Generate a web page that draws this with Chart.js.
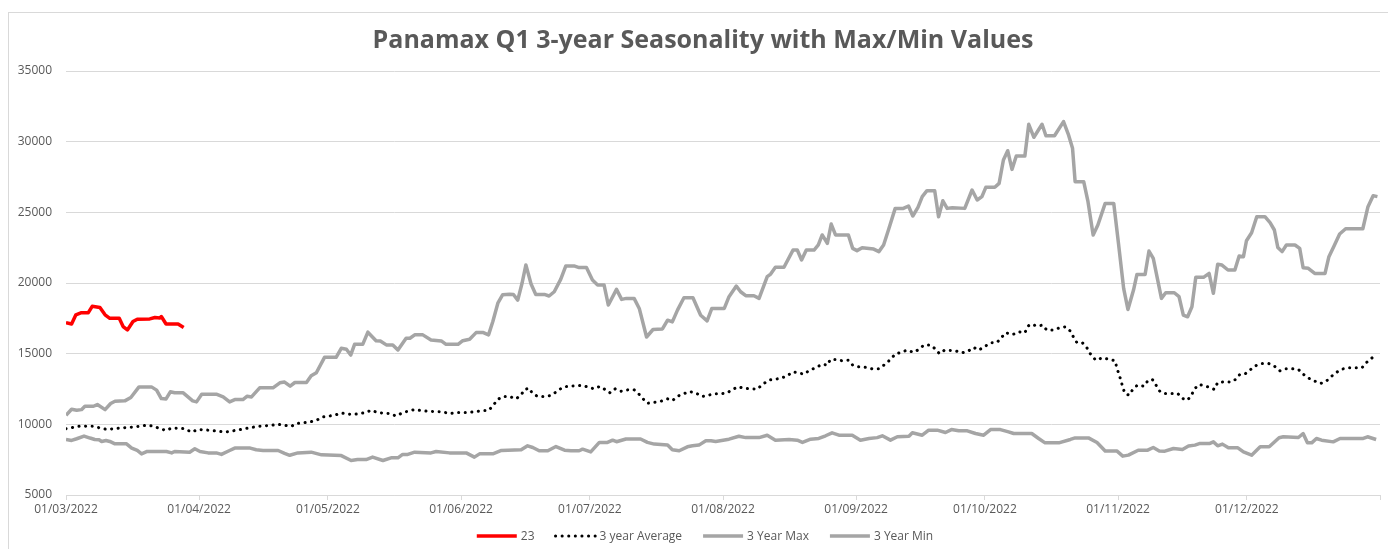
<!DOCTYPE html>
<html lang="en">
<head>
    <meta charset="UTF-8">
    <title>Panamax Q1 3-year Seasonality</title>
    <script src="https://cdn.jsdelivr.net/npm/chart.js"></script>
    <style>
        body { margin: 0; background: #fff; }
        #wrap { position: relative; width: 1388px; height: 549px; }
    </style>
</head>
<body>
<div id="wrap"><canvas id="seasonChart"></canvas></div>
<script>
    const chartTitle = 'Panamax Q1 3-year Seasonality with Max/Min Values';

    // x = days counted from 01/03/2022
    const monthTicks = [0, 31, 61, 92, 122, 153, 184, 214, 245, 275, 306];
    const monthLabels = ['01/03/2022', '01/04/2022', '01/05/2022', '01/06/2022', '01/07/2022',
        '01/08/2022', '01/09/2022', '01/10/2022', '01/11/2022', '01/12/2022', ''];
    const yTicks = [5000, 10000, 15000, 20000, 25000, 30000, 35000];

    const seriesNames = ['23', '3 year Average', '3 Year Max', '3 Year Min'];

    // [day, value]
    const series23 = [[0,17200],[1.3,17100],[2.3,17750],[3.6,17900],[5.2,17900],[6.1,18350],[7.9,18270],
        [9.1,17750],[10.2,17500],[12.4,17500],[13.3,16920],[14.3,16680],[15.6,17270],[16.6,17440],
        [19.5,17460],[20.7,17560],[21.9,17530],[22.2,17630],[23.3,17100],[26.1,17100],[27.4,16850]];

    const avg3y = [[0,9690],[3.3,9880],[6.4,9860],[7.9,9740],[9.5,9640],[12.6,9740],[15.6,9810],[18.8,9930],
        [20.3,9880],[21.9,9690],[23.3,9570],[24.6,9740],[27.7,9690],[29.2,9450],[30.8,9640],[33.9,9570],
        [37,9450],[38.5,9520],[41.6,9690],[44.7,9860],[47.8,9930],[49.4,10000],[50.5,9950],[52.5,9860],
        [53.6,10050],[56.7,10160],[58.3,10280],[59.7,10520],[62.5,10640],[64.1,10800],[66.8,10690],
        [69.8,10830],[71.1,11000],[72.6,10830],[75.3,10760],[76.9,10590],[78.4,10830],[81.1,11040],
        [84.3,10920],[87.7,10880],[89.3,10760],[90.8,10830],[93.6,10830],[97,10970],[98.4,10970],
        [99.5,11350],[100.5,11750],[101.7,11970],[103.3,11970],[104.8,11800],[106,12080],[106.7,12440],
        [107.8,12560],[108.7,12160],[109.9,11970],[111.4,11970],[112.9,12040],[114.3,12320],[115.7,12630],
        [117.2,12700],[120.2,12750],[121.7,12630],[123,12510],[124.3,12680],[125.7,12440],[126.7,12230],
        [127.9,12510],[129.2,12340],[130.8,12440],[132.3,12440],[133.5,12110],[134.4,11800],[135.4,11490],
        [137,11560],[138.5,11630],[140.1,11800],[141.2,11680],[142.8,12040],[145.2,12320],[146.6,12230],
        [148.1,11970],[149.4,12040],[150.9,12160],[152.5,12160],[154,12230],[155.2,12470],[156.6,12660],
        [157.9,12540],[161,12490],[162.2,12820],[163.7,13130],[166.4,13250],[168,13440],[169.3,13720],
        [171.9,13550],[173.2,13840],[174.6,14000],[176.1,14260],[177.3,14190],[178,14590],[179.2,14590],
        [180.7,14500],[182.2,14540],[183.2,14190],[184.6,14070],[186.2,14030],[187.7,13930],[189.3,13930],
        [190.8,14260],[192,14590],[193.1,14970],[194.6,15110],[195.9,15250],[197.4,15090],[198.6,15300],
        [199.8,15610],[201.3,15610],[202.5,15320],[203.4,15000],[204.6,15250],[207.1,15200],[208.7,15060],
        [210.2,15200],[211.4,15440],[212.5,15250],[213.9,15490],[215.3,15770],[216.8,15790],[217.8,16120],
        [218.8,16480],[220.5,16360],[221.9,16550],[223.3,16480],[224,16950],[224.8,17090],[226.1,16950],
        [227.4,17020],[228.4,16670],[230,16670],[231.5,16850],[232.7,16900],[233.8,16620],[234.6,16190],
        [235.4,15790],[236.7,15770],[237.7,15440],[238.5,15010],[239.8,14540],[241.4,14710],[242.7,14610],
        [244.3,14500],[244.7,14020],[245.2,13550],[245.7,13080],[246.1,12610],[246.6,12180],[247.6,12060],
        [248.4,12460],[249.5,12770],[251.1,12700],[251.9,13080],[253,13170],[254,12700],[254.8,12300],
        [255.9,12180],[257.5,12180],[258.9,12180],[260,11830],[261.2,11710],[262.2,12140],[262.9,12540],
        [263.9,12820],[265.3,12700],[266.4,12610],[267.4,12470],[268.2,12960],[269.8,13010],[271.3,12990],
        [272.5,13200],[273.4,13550],[274.7,13600],[276,13910],[277.3,14190],[278.6,14310],[280,14310],
        [281.4,14120],[282.7,13790],[284,13930],[285.6,13930],[287,13880],[288.1,13550],[289.5,13250],
        [290.8,13060],[292.2,12890],[293.5,13060],[294.6,13370],[295.8,13670],[297.2,13910],[298.7,14000],
        [301.8,14000],[302.8,14360],[304,14660],[305.1,14950]];

    const max3y = [[0,10640],[1.3,11070],[2.5,11000],[3.6,11040],[4.4,11280],[6.4,11280],[7.3,11400],
        [9.1,11040],[10.4,11470],[11.4,11630],[13.7,11660],[15.1,11900],[17,12650],[19.9,12650],
        [21.1,12420],[22.2,11820],[23.3,11800],[24.3,12300],[25.3,12230],[27.3,12230],[29.5,11660],
        [30.4,11590],[31.6,12130],[35,12130],[36.6,11940],[38.1,11590],[39.3,11750],[41.2,11750],
        [42.2,11990],[43.2,11940],[45.1,12580],[48.2,12580],[49.8,12940],[50.9,12990],[52.2,12700],
        [53.3,12960],[56,12960],[57.1,13430],[58.3,13650],[60.2,14740],[62.9,14740],[64.1,15380],
        [65.3,15310],[66.3,14900],[67.2,15660],[69.1,15660],[70.3,16520],[72.2,15920],[73.2,15900],
        [74.6,15620],[76.1,15620],[77.3,15260],[79.2,16090],[80.1,16090],[81.2,16330],[83.1,16330],
        [85,15970],[87.4,15900],[88.5,15660],[91.3,15660],[92.4,15920],[94,16020],[95.5,16490],
        [97.2,16490],[98.4,16330],[99.4,17270],[100.6,18600],[101.7,19170],[103.3,19200],[104.2,19190],
        [105.2,18790],[106.2,19980],[107.1,21280],[108.3,19930],[109.4,19190],[111.4,19190],[112.5,19080],
        [113.7,19380],[115.2,20260],[116.4,21210],[118.3,21210],[119.5,21090],[121.2,21090],[122.6,20210],
        [123.8,19860],[125.3,19860],[126.3,18440],[128.2,19550],[129.4,18840],[130.5,18910],[132.3,18910],
        [133.5,18200],[135.2,16180],[136.7,16710],[138.9,16750],[140.1,17370],[141.2,17250],[142.4,18080],
        [143.9,18960],[146,18960],[147.8,17720],[149.3,17320],[150.4,18200],[153.3,18200],[154.4,19030],
        [156.1,19780],[157.1,19380],[158.3,19100],[160.2,19100],[161.4,18910],[163.3,20450],[164.1,20630],
        [165.2,21110],[167.2,21110],[169.3,22330],[170.3,22330],[171.3,21630],[172.4,22330],[174.2,22330],
        [175.2,22690],[176.1,23400],[177.3,22810],[178.2,24170],[179.2,23400],[182.2,23400],[183.2,22450],
        [184.2,22290],[185.4,22500],[188.1,22400],[189.3,22220],[190.4,22690],[191.6,23820],[193.1,25280],
        [195,25280],[196.2,25450],[197.2,24740],[198.4,25350],[199.4,26110],[200.5,26530],[202.3,26530],
        [203.2,24690],[204.2,25820],[205.2,25280],[206.4,25330],[209.3,25280],[211,26580],[212.2,25870],
        [213.3,26110],[214.2,26770],[216.3,26770],[217.3,27050],[218.3,28700],[219.3,29360],[220.3,28040],
        [221.3,28990],[223.3,28990],[224.2,31230],[225.4,30310],[227.3,31230],[228.2,30420],[230.2,30420],
        [232.3,31420],[233.4,30540],[234.4,29530],[235,27170],[237,27170],[238,25750],[239.2,23390],
        [240.3,24100],[242,25630],[244,25630],[245.1,22800],[246.3,19620],[247.3,18130],[248.6,19500],
        [249.4,20610],[251.3,20610],[252.2,22260],[253.2,21740],[255.1,18910],[256.1,19310],[258.1,19310],
        [259.2,19030],[260.2,17730],[261.2,17610],[262.2,18320],[263.1,20400],[264.9,20400],[266.2,20680],
        [267.2,19270],[268.2,21320],[269.2,21270],[270.6,20920],[272.2,20920],[273.2,21910],[274.2,21860],
        [274.9,22990],[276.1,23560],[277.3,24690],[279.2,24690],[280.4,24270],[281.4,23750],[282.2,22520],
        [283.2,22220],[284.2,22690],[286.2,22690],[287.3,22450],[288.1,21080],[289.3,21040],[290.8,20680],
        [293.2,20680],[294.1,21860],[295.3,22620],[296.6,23470],[298,23840],[302,23840],[303.2,25400],
        [304.4,26180],[305.4,26110]];

    const min3y = [[0,8930],[1.3,8860],[2.5,8980],[4.2,9170],[5.6,9030],[6.7,8930],[7.7,8910],[8.3,8790],
        [9.3,8860],[10.2,8790],[11.4,8620],[14.1,8620],[15.3,8320],[16.6,8150],[17.6,7910],[18.9,8080],
        [23.4,8080],[24.6,7980],[25.3,8080],[28.8,8030],[30,8270],[31.2,8080],[33.1,7980],[35,7980],
        [36.2,7870],[38.1,8150],[39.3,8320],[42.9,8320],[44.3,8200],[45.9,8150],[49.4,8150],[50.9,7950],
        [52.1,7810],[54,7980],[57.1,8030],[59.5,7840],[64.1,7790],[66.4,7440],[67.9,7510],[69.9,7510],
        [71.4,7680],[73.8,7440],[75.7,7630],[77.3,7630],[78.4,7870],[79.6,7870],[81.2,8030],[85,7980],
        [86.2,8080],[89.3,7980],[93.2,7980],[95.1,7680],[96.3,7910],[99.4,7910],[101.4,8150],[106,8200],
        [107.5,8480],[108.7,8360],[110.2,8130],[112.2,8130],[114.1,8430],[116.1,8170],[117.6,8130],
        [119.5,8130],[120.3,8240],[122.2,8050],[124.2,8720],[126.1,8720],[127.3,8880],[128.2,8770],
        [130.4,8960],[133.8,8960],[135.4,8720],[137,8600],[140.1,8530],[141.2,8200],[142.8,8130],
        [144.7,8410],[145.9,8480],[147.4,8530],[149,8840],[150.2,8840],[151.3,8790],[154.4,8950],
        [156.7,9160],[158.3,9060],[161.4,9060],[163.3,9230],[165.2,8880],[168.4,8930],[170.3,8880],
        [171.5,8720],[173.4,8950],[175.3,9000],[176.9,9190],[178.4,9400],[180,9230],[183.1,9230],
        [185,8880],[187,9000],[188.9,9060],[190.1,9190],[192,8880],[193.6,9120],[196.3,9160],[197.1,9400],
        [199.4,9230],[200.9,9590],[202.9,9590],[204.8,9420],[206.2,9630],[207.9,9540],[209.9,9540],
        [211.8,9350],[213.7,9230],[215.3,9630],[217.6,9630],[219.5,9470],[220.7,9350],[224.9,9350],
        [226.5,9000],[228,8690],[231.2,8690],[233.9,8930],[235,9040],[238.1,9040],[240.1,8710],[242,8120],
        [244.7,8120],[246.1,7750],[247.4,7820],[249.7,8170],[251.9,8170],[253.2,8360],[254.6,8120],
        [255.9,8100],[257.9,8290],[260,8220],[261.4,8460],[262.9,8530],[264.1,8650],[266.4,8650],
        [267.2,8760],[268.2,8480],[269.3,8600],[270.7,8340],[272.9,8340],[274.2,8050],[276.1,7820],
        [278.1,8410],[280.2,8410],[282.5,9050],[283.5,9120],[287,9070],[288.1,9350],[289.1,8690],
        [290.1,8690],[291.2,9000],[292.4,8880],[295.1,8760],[296.7,9000],[302.1,9000],[303.1,9120],
        [305.1,8930]];

    const textGrey = '#595959';
    const gridGrey = '#d9d9d9';

    function toPoints(rows) {
        return rows.map(r => ({ x: r[0], y: r[1] }));
    }

    // title, bottom legend and outer frame, Excel style
    const chartDecor = {
        id: 'chartDecor',
        beforeDraw(chart) {
            const ctx = chart.ctx;
            ctx.save();
            ctx.fillStyle = '#fff';
            ctx.fillRect(0, 0, chart.width, chart.height);
            ctx.strokeStyle = gridGrey;
            ctx.lineWidth = 1;
            ctx.strokeRect(8.5, 12.5, chart.width, chart.height);
            ctx.restore();
        },
        afterDraw(chart) {
            const ctx = chart.ctx;
            ctx.save();
            ctx.fillStyle = textGrey;
            ctx.font = 'bold 25px "Open Sans"';
            ctx.textAlign = 'center';
            ctx.textBaseline = 'middle';
            ctx.fillText(chartTitle, 703, 41);

            ctx.font = '12px "Open Sans"';
            ctx.textAlign = 'left';
            const sets = chart.data.datasets;
            const lineLen = 40, gapText = 4, gapItem = 21;
            const widths = sets.map(ds => ctx.measureText(ds.label).width);
            const total = widths.reduce((s, w) => s + lineLen + gapText + w, 0) + gapItem * (sets.length - 1);
            let x = 705 - total / 2;
            const y = 536;
            sets.forEach((ds, i) => {
                ctx.beginPath();
                ctx.strokeStyle = ds.borderColor;
                ctx.lineWidth = ds.borderWidth;
                ctx.setLineDash(ds.borderDash || []);
                ctx.lineCap = ds.borderCapStyle || 'butt';
                ctx.moveTo(x, y);
                ctx.lineTo(x + lineLen, y);
                ctx.stroke();
                ctx.setLineDash([]);
                ctx.fillStyle = textGrey;
                ctx.fillText(ds.label, x + lineLen + gapText, y + 1);
                x += lineLen + gapText + widths[i] + gapItem;
            });
            ctx.restore();
        }
    };

    function drawChart() {
        const ctx = document.getElementById('seasonChart').getContext('2d');
        new Chart(ctx, {
            type: 'line',
            data: {
                datasets: [{
                    label: seriesNames[0],
                    data: toPoints(series23),
                    borderColor: '#ff0000',
                    borderWidth: 3.5,
                }, {
                    label: seriesNames[1],
                    data: toPoints(avg3y),
                    borderColor: '#000000',
                    borderWidth: 3,
                    borderDash: [0.1, 6.5],
                    borderCapStyle: 'round',
                }, {
                    label: seriesNames[2],
                    data: toPoints(max3y),
                    borderColor: '#a5a5a5',
                    borderWidth: 3.5,
                }, {
                    label: seriesNames[3],
                    data: toPoints(min3y),
                    borderColor: '#a5a5a5',
                    borderWidth: 3.5,
                }]
            },
            options: {
                responsive: true,
                maintainAspectRatio: false,
                animation: false,
                layout: { padding: { top: 71, right: 8, bottom: 0, left: 0 } },
                elements: {
                    point: { radius: 0, hoverRadius: 0 },
                    line: { tension: 0, borderJoinStyle: 'round' }
                },
                plugins: {
                    legend: { display: false },
                    title: { display: false },
                    tooltip: { enabled: false }
                },
                scales: {
                    x: {
                        type: 'linear',
                        min: 0,
                        max: 306,
                        afterBuildTicks: s => { s.ticks = monthTicks.map(v => ({ value: v })); },
                        afterFit: s => { s.height = 54; },
                        ticks: {
                            autoSkip: false,
                            maxRotation: 0,
                            padding: 2,
                            color: textGrey,
                            font: { family: 'Open Sans', size: 12 },
                            callback: (v, i) => monthLabels[i]
                        },
                        grid: { drawOnChartArea: false, drawTicks: true, tickLength: 5, color: gridGrey },
                        border: { color: gridGrey }
                    },
                    y: {
                        min: 5000,
                        max: 35000,
                        afterBuildTicks: s => { s.ticks = yTicks.map(v => ({ value: v })); },
                        afterFit: s => { s.width = 66; },
                        ticks: {
                            padding: 14,
                            color: textGrey,
                            font: { family: 'Open Sans', size: 12 },
                            callback: v => String(v)
                        },
                        grid: { color: gridGrey, drawTicks: false },
                        border: { display: false }
                    }
                }
            },
            plugins: [chartDecor]
        });
    }

    document.fonts.load('bold 25px "Open Sans"').then(() => document.fonts.load('12px "Open Sans"')).then(drawChart, drawChart);
</script>
</body>
</html>
